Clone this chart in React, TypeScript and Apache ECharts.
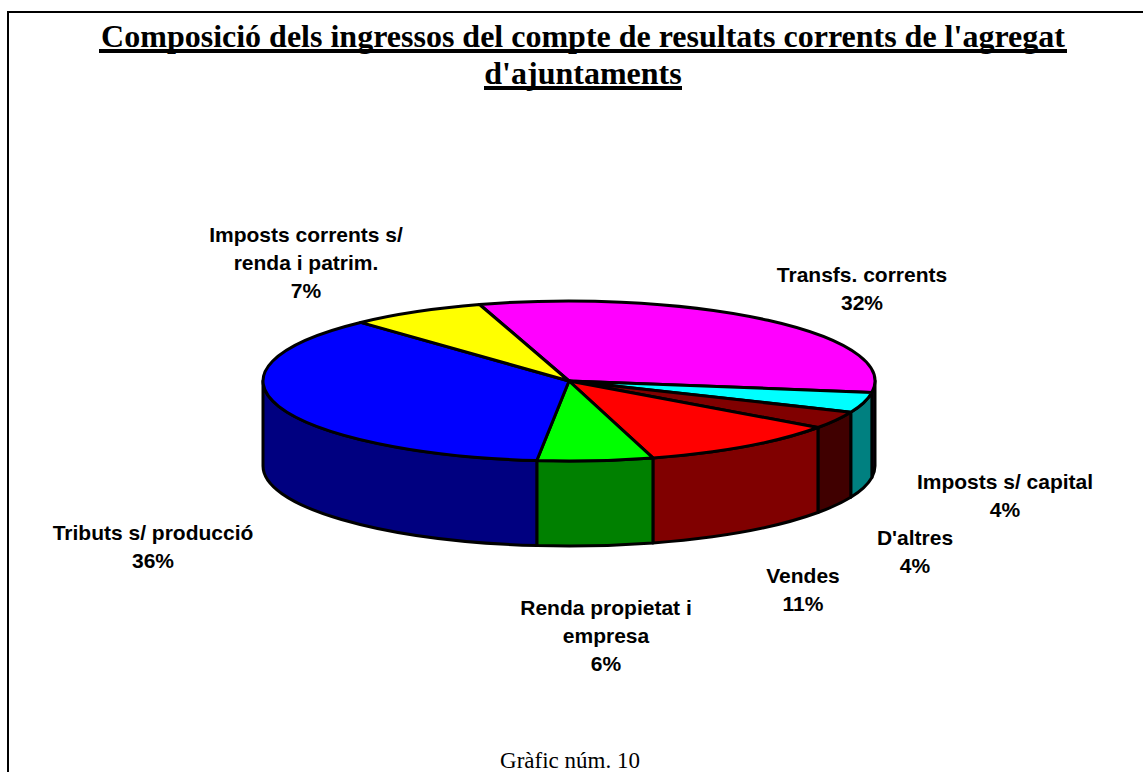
import React, { useEffect, useRef } from "react";
import * as echarts from "echarts";

const titleLines = ["Composició dels ingressos del compte de resultats corrents de l'agregat", "d'ajuntaments"];
const caption = "Gràfic núm. 10";
const categories = ["Transfs. corrents", "Imposts s/ capital", "D'altres", "Vendes", "Renda propietat i\nempresa", "Tributs s/ producció", "Imposts corrents s/\nrenda i patrim."];
const values = [32.0, 4.1, 3.5, 10.7, 6.1, 36.4, 7.2];
const topColors = ["#ff00ff", "#00ffff", "#800000", "#ff0000", "#00ff00", "#0000ff", "#ffff00"];
const wallColors = ["#800080", "#008080", "#400000", "#800000", "#008000", "#000080", "#808000"];
const labelCenters = [[862, 274], [1005, 481], [915, 537], [803, 575], [606, 607], [153, 532], [306, 234]];

const W = 1143, H = 772;
const CX = 569, CY = 381, RX = 306, RY = 80, DEPTH = 85, START = -17;
const LINE_H = 28;
const total = values.reduce((a, b) => a + b, 0);
const pt = (deg: number, dy = 0): [number, number] => {
  const r = (deg * Math.PI) / 180;
  return [CX + RX * Math.sin(r), CY - RY * Math.cos(r) + dy];
};
const fmt = (p: [number, number]) => `${p[0].toFixed(2)} ${p[1].toFixed(2)}`;

function renderSlice(_: any, api: any) {
  const i = api.value(0) as number;
  let a0 = START;
  for (let k = 0; k < i; k++) a0 += (values[k] / total) * 360;
  const a1 = a0 + (values[i] / total) * 360;
  const children: any[] = [];
  const wa = Math.max(a0, 90), wb = Math.min(a1, 270);
  const stroke = { stroke: "#000", lineWidth: 3, lineJoin: "round" };
  if (wb > wa) {
    const d = `M ${fmt(pt(wa))} A ${RX} ${RY} 0 0 1 ${fmt(pt(wb))} L ${fmt(pt(wb, DEPTH))} A ${RX} ${RY} 0 0 0 ${fmt(pt(wa, DEPTH))} Z`;
    children.push({ type: "path", z2: 1, shape: { pathData: d }, style: { fill: wallColors[i], ...stroke } });
  }
  const large = a1 - a0 > 180 ? 1 : 0;
  const t = `M ${CX} ${CY} L ${fmt(pt(a0))} A ${RX} ${RY} 0 ${large} 1 ${fmt(pt(a1))} Z`;
  children.push({ type: "path", z2: 2, shape: { pathData: t }, style: { fill: topColors[i], ...stroke } });
  const lines = categories[i].split("\n").concat(`${Math.round(values[i])}%`);
  lines.forEach((s, n) => {
    children.push({
      type: "text", z2: 3,
      style: {
        text: s, x: labelCenters[i][0], y: labelCenters[i][1] + n * LINE_H,
        align: "center", verticalAlign: "middle", fill: "#000",
        font: 'bold 21px "Liberation Sans"',
      },
    });
  });
  return { type: "group", children };
}

export default function App() {
  const ref = useRef<HTMLDivElement>(null);
  useEffect(() => {
    document.body.style.margin = "0";
    const chart = echarts.init(ref.current!, null, { renderer: "svg" });
    const serif = '"Liberation Serif"';
    chart.setOption({
      animation: false,
      backgroundColor: "#fff",
      graphic: [
        { type: "rect", shape: { x: 8, y: 12, width: 1200, height: 800 }, style: { fill: "none", stroke: "#000", lineWidth: 2 } },
        { type: "text", style: { text: titleLines[0], x: 583, y: 35.5, align: "center", verticalAlign: "middle", font: `bold 32px ${serif}`, fill: "#000" } },
        { type: "text", style: { text: titleLines[1], x: 583, y: 72.5, align: "center", verticalAlign: "middle", font: `bold 32px ${serif}`, fill: "#000" } },
        { type: "rect", shape: { x: 99, y: 49, width: 968, height: 4 }, style: { fill: "#000" } },
        { type: "rect", shape: { x: 484, y: 86, width: 198, height: 4 }, style: { fill: "#000" } },
        { type: "text", style: { text: caption, x: 570, y: 760, align: "center", verticalAlign: "middle", font: `23px ${serif}`, fill: "#000" } },
      ],
      series: [
        {
          type: "custom",
          coordinateSystem: "none",
          silent: true,
          clip: false,
          data: values.map((v, i) => [i, v]),
          renderItem: renderSlice,
        },
      ],
    });
    return () => chart.dispose();
  }, []);
  return <div ref={ref} style={{ width: W, height: H, position: "absolute", left: 0, top: 0 }} />;
}
